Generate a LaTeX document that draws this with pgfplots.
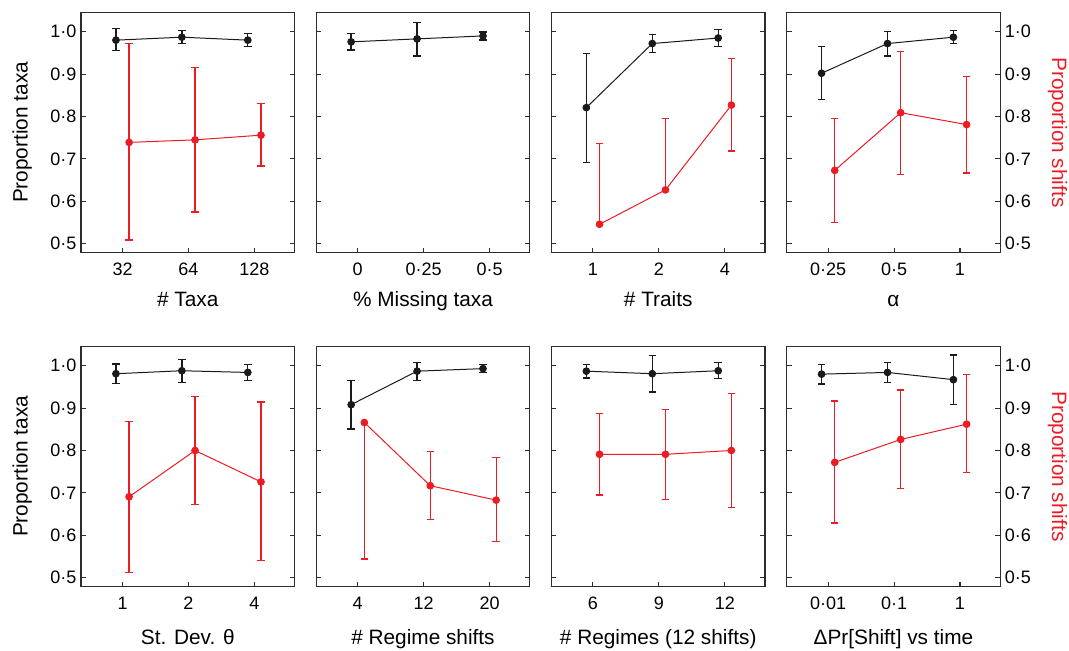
\documentclass[border=0pt]{standalone}
\usepackage{fontspec}
\setmainfont{Liberation Sans}
\usepackage{pgfplots}
\pgfplotsset{compat=1.18}
\definecolor{cred}{RGB}{236,28,36}
\definecolor{cblk}{RGB}{26,26,26}
\definecolor{axg}{RGB}{45,45,45}
\newcommand{\tickfont}{\fontsize{13.5}{16}\selectfont}
\newcommand{\labfont}{\fontsize{15.6}{18}\selectfont}
\pgfplotsset{
  panel/.style={
    scale only axis, width=160.2pt, height=180.4pt, anchor=south west,
    xmin=-0.63, xmax=2.61, ymin=0.479, ymax=1.046,
    xtick={0,1,2}, ytick={0.5,0.6,0.7,0.8,0.9,1.0},
    yticklabels={0·5,0·6,0·7,0·8,0·9,1·0},
    xtick pos=bottom, ytick pos=both,
    tick align=inside, major tick length=3.75pt,
    axis line style={draw=axg, line width=0.8pt},
    every tick/.style={draw=axg, line width=0.8pt},
    every tick label/.append style={font=\tickfont, text=black},
    xticklabel style={yshift=-4.5pt},
    every axis x label/.style={at={(axis description cs:0.5,-0.2245)}, anchor=base, font=\labfont},
    clip=false,
  },
  noy/.style={yticklabels={,,,,,}},
  lefty/.style={yticklabel pos=left,
    every axis y label/.style={at={(axis description cs:-0.275,0.5)}, rotate=90, anchor=center, font=\labfont}},
  righty/.style={yticklabel pos=right, ytick pos=both,
    every axis y label/.style={at={(axis description cs:1.268,0.5)}, rotate=-90, anchor=center, text=cred, font=\labfont}},
  lowrow/.style={every axis x label/.style={at={(axis description cs:0.5,-0.242)}, anchor=base, font=\labfont}},
  ebB/.style={forget plot, only marks, mark=none,
    error bars/y dir=both, error bars/y explicit,
    error bars/error bar style={draw=cblk, line width=1pt, solid},
    error bars/error mark options={rotate=90, draw=cblk, line width=1pt, mark size=2.8pt}},
  ebR/.style={forget plot, only marks, mark=none,
    error bars/y dir=both, error bars/y explicit,
    error bars/error bar style={draw=cred, line width=1pt, solid},
    error bars/error mark options={rotate=90, draw=cred, line width=1pt, mark size=2.8pt}},
  lnB/.style={draw=cblk, line width=0.75pt, mark=*, mark size=2.5pt, mark options={fill=cblk, draw=cblk, solid}},
  lnR/.style={draw=cred, line width=0.75pt, mark=*, mark size=2.5pt, mark options={fill=cred, draw=cred, solid}},
}
\begin{document}
\begin{tikzpicture}
\useasboundingbox (0,0) rectangle (801.75pt,487.5pt);
% ---------------- Top row ----------------
\begin{axis}[panel, lefty, at={(60.75pt,297.98pt)},
  xticklabels={32,64,128}, xlabel={\# Taxa}, ylabel={Proportion taxa}]
\addplot[ebB] coordinates {(-0.1,0.980) += (0,0.027) -= (0,0.025) (0.9,0.987) += (0,0.015) -= (0,0.015) (1.9,0.980) += (0,0.015) -= (0,0.015)};
\addplot[lnB] coordinates {(-0.1,0.980) (0.9,0.987) (1.9,0.980)};
\addplot[ebR] coordinates {(0.1,0.739) += (0,0.233) -= (0,0.230) (1.1,0.745) += (0,0.170) -= (0,0.170) (2.1,0.756) += (0,0.074) -= (0,0.073)};
\addplot[lnR] coordinates {(0.1,0.739) (1.1,0.745) (2.1,0.756)};
\end{axis}
\begin{axis}[panel, noy, at={(237.15pt,297.98pt)},
  xticklabels={0,0·25,0·5}, xlabel={\% Missing taxa}]
\addplot[ebB] coordinates {(-0.1,0.976) += (0,0.019) -= (0,0.019) (0.9,0.983) += (0,0.039) -= (0,0.040) (1.9,0.990) += (0,0.009) -= (0,0.010)};
\addplot[lnB] coordinates {(-0.1,0.976) (0.9,0.983) (1.9,0.990)};
\end{axis}
\begin{axis}[panel, noy, at={(413.55pt,297.98pt)},
  xticklabels={1,2,4}, xlabel={\# Traits}]
\addplot[ebB] coordinates {(-0.1,0.821) += (0,0.128) -= (0,0.129) (0.9,0.972) += (0,0.021) -= (0,0.021) (1.9,0.985) += (0,0.020) -= (0,0.020)};
\addplot[lnB] coordinates {(-0.1,0.821) (0.9,0.972) (1.9,0.985)};
\addplot[ebR, /pgfplots/error bars/y dir=plus] coordinates {(0.1,0.546) += (0,0.191) (1.1,0.627) += (0,0.169)};
\addplot[ebR] coordinates {(2.1,0.827) += (0,0.109) -= (0,0.108)};
\addplot[lnR] coordinates {(0.1,0.546) (1.1,0.627) (2.1,0.827)};
\end{axis}
\begin{axis}[panel, righty, at={(589.95pt,297.98pt)},
  xticklabels={0·25,0·5,1}, xlabel={α}, ylabel={Proportion shifts}]
\addplot[ebB] coordinates {(-0.1,0.902) += (0,0.063) -= (0,0.062) (0.9,0.972) += (0,0.028) -= (0,0.029) (1.9,0.987) += (0,0.015) -= (0,0.015)};
\addplot[lnB] coordinates {(-0.1,0.902) (0.9,0.972) (1.9,0.987)};
\addplot[ebR] coordinates {(0.1,0.673) += (0,0.123) -= (0,0.123) (1.1,0.809) += (0,0.145) -= (0,0.145) (2.1,0.781) += (0,0.114) -= (0,0.114)};
\addplot[lnR] coordinates {(0.1,0.673) (1.1,0.809) (2.1,0.781)};
\end{axis}
% ---------------- Bottom row ----------------
\begin{axis}[panel, lefty, lowrow, at={(60.75pt,47.5pt)},
  xticklabels={1,2,4}, xlabel={St. Dev. θ}, ylabel={Proportion taxa}]
\addplot[ebB] coordinates {(-0.1,0.981) += (0,0.023) -= (0,0.023) (0.9,0.988) += (0,0.026) -= (0,0.027) (1.9,0.984) += (0,0.019) -= (0,0.019)};
\addplot[lnB] coordinates {(-0.1,0.981) (0.9,0.988) (1.9,0.984)};
\addplot[ebR] coordinates {(0.1,0.691) += (0,0.178) -= (0,0.178) (1.1,0.800) += (0,0.127) -= (0,0.127) (2.1,0.726) += (0,0.188) -= (0,0.185)};
\addplot[lnR] coordinates {(0.1,0.691) (1.1,0.800) (2.1,0.726)};
\end{axis}
\begin{axis}[panel, noy, lowrow, at={(237.15pt,47.5pt)},
  xticklabels={4,12,20}, xlabel={\# Regime shifts}]
\addplot[ebB] coordinates {(-0.1,0.908) += (0,0.057) -= (0,0.057) (0.9,0.987) += (0,0.020) -= (0,0.022) (1.9,0.993) += (0,0.010) -= (0,0.009)};
\addplot[lnB] coordinates {(-0.1,0.908) (0.9,0.987) (1.9,0.993)};
\addplot[ebR, /pgfplots/error bars/y dir=minus] coordinates {(0.1,0.866) -= (0,0.322)};
\addplot[ebR] coordinates {(1.1,0.717) += (0,0.080) -= (0,0.079) (2.1,0.683) += (0,0.101) -= (0,0.098)};
\addplot[lnR] coordinates {(0.1,0.866) (1.1,0.717) (2.1,0.683)};
\end{axis}
\begin{axis}[panel, noy, lowrow, at={(413.55pt,47.5pt)},
  xticklabels={6,9,12}, xlabel={\# Regimes (12 shifts)}]
\addplot[ebB] coordinates {(-0.1,0.987) += (0,0.016) -= (0,0.016) (0.9,0.981) += (0,0.043) -= (0,0.043) (1.9,0.988) += (0,0.019) -= (0,0.018)};
\addplot[lnB] coordinates {(-0.1,0.987) (0.9,0.981) (1.9,0.988)};
\addplot[ebR] coordinates {(0.1,0.791) += (0,0.096) -= (0,0.096) (1.1,0.791) += (0,0.105) -= (0,0.106) (2.1,0.800) += (0,0.134) -= (0,0.135)};
\addplot[lnR] coordinates {(0.1,0.791) (1.1,0.791) (2.1,0.800)};
\end{axis}
\begin{axis}[panel, righty, lowrow, at={(589.95pt,47.5pt)},
  xticklabels={0·01,0·1,1}, xlabel={ΔPr[Shift] vs time}, ylabel={Proportion shifts}]
\addplot[ebB] coordinates {(-0.1,0.980) += (0,0.023) -= (0,0.023) (0.9,0.984) += (0,0.023) -= (0,0.023) (1.9,0.967) += (0,0.058) -= (0,0.058)};
\addplot[lnB] coordinates {(-0.1,0.980) (0.9,0.984) (1.9,0.967)};
\addplot[ebR] coordinates {(0.1,0.772) += (0,0.145) -= (0,0.143) (1.1,0.826) += (0,0.117) -= (0,0.116) (2.1,0.862) += (0,0.117) -= (0,0.114)};
\addplot[lnR] coordinates {(0.1,0.772) (1.1,0.826) (2.1,0.862)};
\end{axis}
\end{tikzpicture}
\end{document}
